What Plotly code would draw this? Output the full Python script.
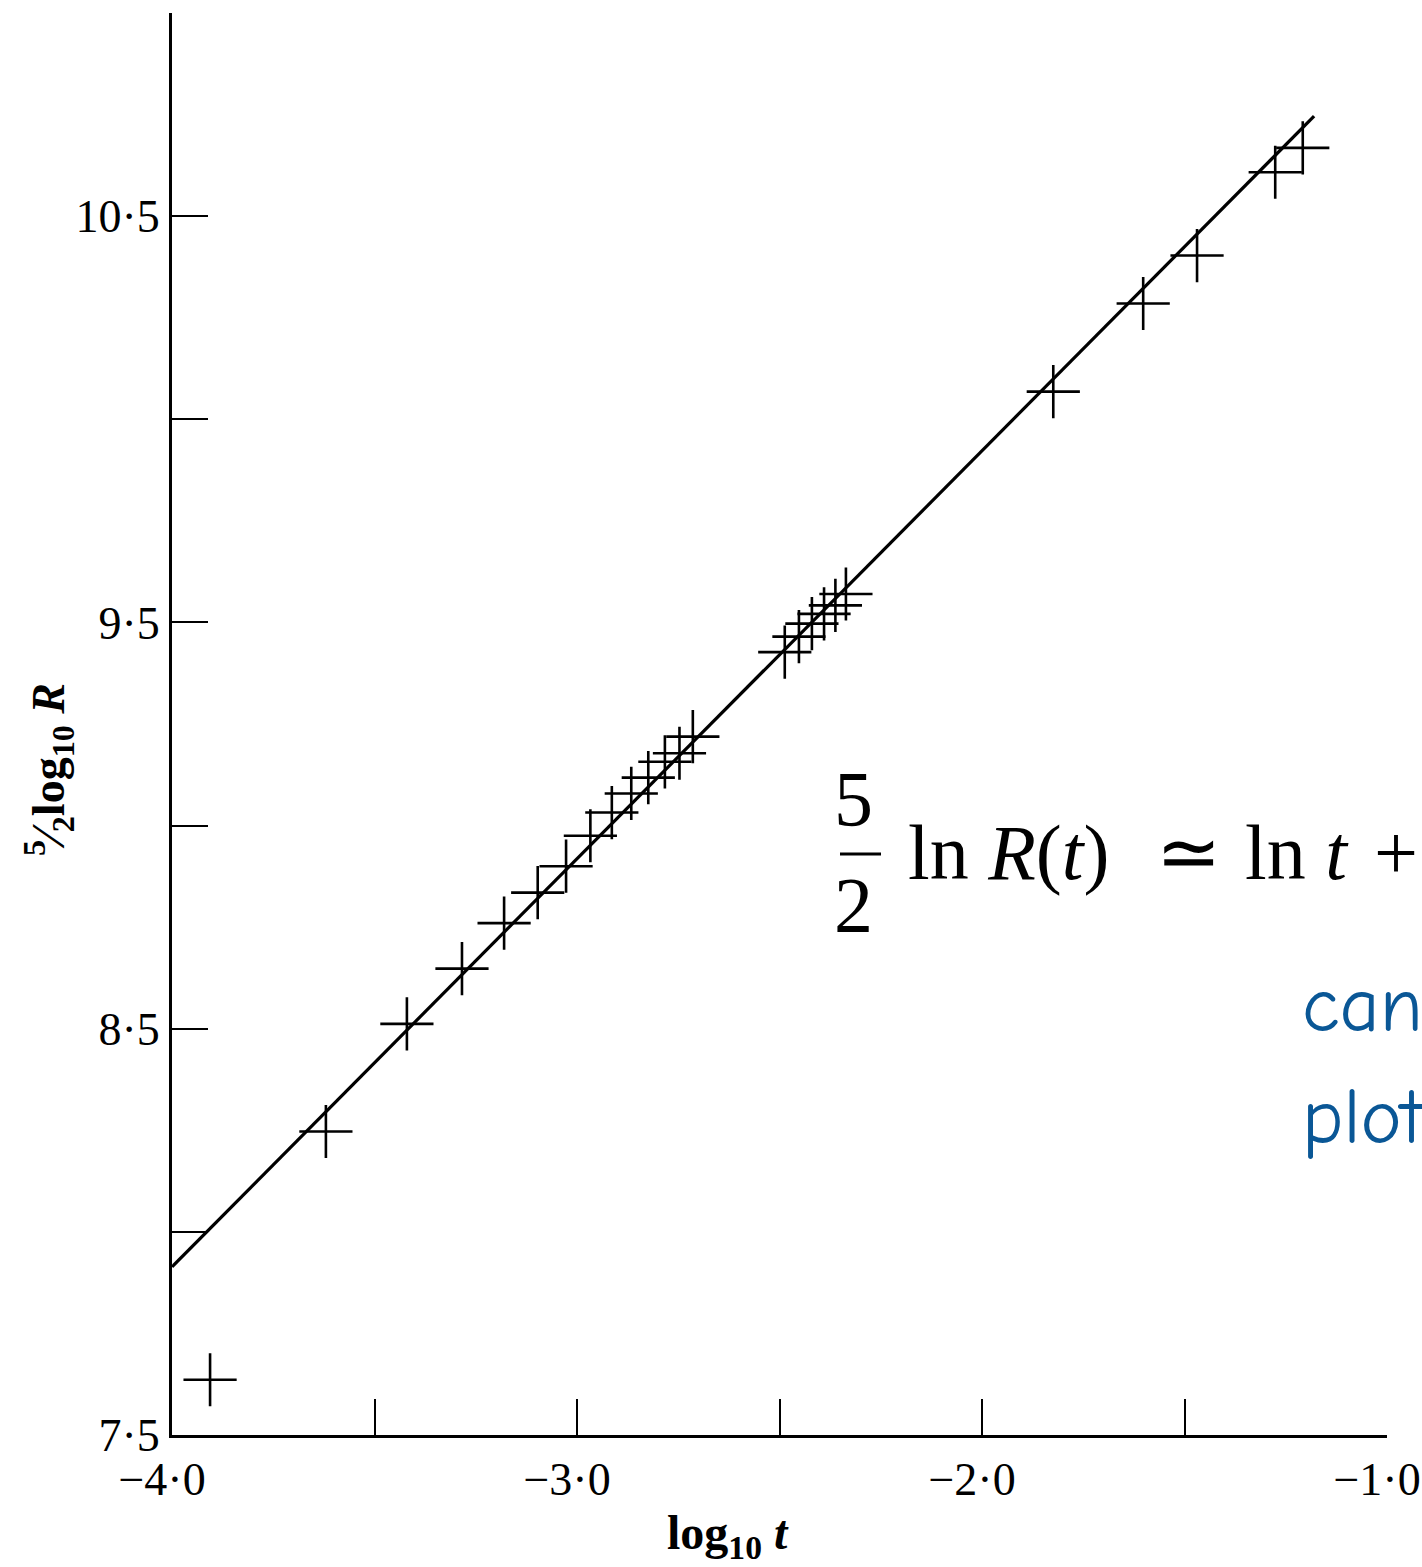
import plotly.graph_objects as go

# ---------------- data ----------------
log10_t = [-3.906, -3.620, -3.420, -3.284, -3.180, -3.097, -3.027, -2.967,
           -2.914, -2.866, -2.824, -2.783, -2.747, -2.714, -2.487, -2.452,
           -2.420, -2.390, -2.362, -2.336, -1.824, -1.602, -1.469, -1.276,
           -1.208]
five_halves_log10_R = [7.636, 8.247, 8.512, 8.648, 8.760, 8.835, 8.900, 8.975,
                       9.032, 9.079, 9.118, 9.157, 9.178, 9.219, 9.427, 9.465,
                       9.497, 9.521, 9.542, 9.570, 10.068, 10.285, 10.403,
                       10.608, 10.668]

fit_x = [-4.0, -1.18]
fit_y = [7.914, 10.746]

x_tickvals = [-4.0, -3.0, -2.0, -1.0]
x_ticktext = ["\u22124\u00b70", "\u22123\u00b70", "\u22122\u00b70", "\u22121\u00b70"]
x_minor_ticks = [-3.5, -2.5, -1.5]
y_tickvals = [7.5, 8.5, 9.5, 10.5]
y_ticktext = ["7\u00b75", "8\u00b75", "9\u00b75", "10\u00b75"]
y_minor_ticks = [8.0, 9.0, 10.0, 11.0]

# ---------------- figure ----------------
W, H = 1422, 1567
ML, MR, MT, MB = 172, 35, 13, 132
SERIF = "Liberation Serif, Times New Roman, serif"


def px(xp):
    return (xp - ML) / (W - ML - MR)


def py(yp):
    return (H - MB - yp) / (H - MT - MB)


fig = go.Figure()
fig.add_trace(go.Scatter(x=fit_x, y=fit_y, mode="lines",
                         line=dict(color="black", width=3.2),
                         showlegend=False, hoverinfo="skip"))
fig.add_trace(go.Scatter(x=log10_t, y=five_halves_log10_R, mode="markers",
                         marker=dict(symbol="cross-thin", size=38,
                                     line=dict(color="black", width=2.6)),
                         showlegend=False))

TICKSTYLE = dict(ticks="inside", ticklen=36, tickwidth=2.2, tickcolor="black")
axis_common = dict(showline=True, linecolor="black", linewidth=3,
                   showgrid=False, zeroline=False, mirror=False,
                   automargin=False, ticklabeloverflow="allow",
                   tickfont=dict(family=SERIF, size=46, color="black"),
                   **TICKSTYLE)

fig.update_xaxes(range=[-4.0, -1.0], tickmode="array", tickvals=x_tickvals,
                 ticktext=x_ticktext, ticklabelstandoff=2, ticklabelshift=-10,
                 minor=dict(tickmode="array", tickvals=x_minor_ticks, showgrid=False, **TICKSTYLE),
                 **axis_common)
fig.update_yaxes(range=[7.5, 11.0], tickmode="array", tickvals=y_tickvals,
                 ticktext=y_ticktext, ticklabelstandoff=0,
                 minor=dict(tickmode="array", tickvals=y_minor_ticks, showgrid=False, **TICKSTYLE),
                 **axis_common)

ann = []
# axis titles
ann.append(dict(text="<b>log<sub>10</sub> <i>t</i></b>", x=px(728), y=py(1536),
                font=dict(family=SERIF, size=48, color="black")))
ann.append(dict(text="<b><sup>5</sup>\u2044<sub>2</sub>log<sub>10</sub> <i>R</i></b>",
                x=px(48), y=py(770), textangle=-90,
                font=dict(family=SERIF, size=46, color="black")))
# equation
EQ = dict(family=SERIF, size=78, color="black")
ann.append(dict(text="5", x=px(853), y=py(798), font=EQ))
ann.append(dict(text="2", x=px(853), y=py(904), font=EQ))
ann.append(dict(text="ln <i>R</i>(<i>t</i>)", x=px(906), y=py(852), xanchor="left", font=EQ))
ann.append(dict(text="\u2243", x=px(1188), y=py(852), font=EQ))
ann.append(dict(text="ln <i>t</i>", x=px(1243), y=py(852), xanchor="left", font=EQ))
ann.append(dict(text="+", x=px(1372), y=py(852), xanchor="left", font=EQ))
# blue remark
BLUE = dict(family="Comic Sans MS, Comic Neue, Open Sans, sans-serif", size=78, color="#0A5796")
ann.append(dict(text="can", x=px(1300), y=py(1006), xanchor="left", font=BLUE))
ann.append(dict(text="plot", x=px(1300), y=py(1118), xanchor="left", font=BLUE))

for a in ann:
    a.update(xref="paper", yref="paper", showarrow=False)
    a.setdefault("xanchor", "center")
    a.setdefault("yanchor", "middle")

fig.update_layout(
    width=W, height=H, autosize=False,
    margin=dict(l=ML, r=MR, t=MT, b=MB, pad=0, autoexpand=False),
    paper_bgcolor="white", plot_bgcolor="white",
    annotations=ann,
    shapes=[dict(type="line", xref="paper", yref="paper",
                 x0=px(840), x1=px(881), y0=py(854), y1=py(854),
                 line=dict(color="black", width=3))],
)

fig.write_html("out.html", config={"displayModeBar": False},
               post_script="document.body.style.margin='0';document.body.style.overflow='hidden';")
